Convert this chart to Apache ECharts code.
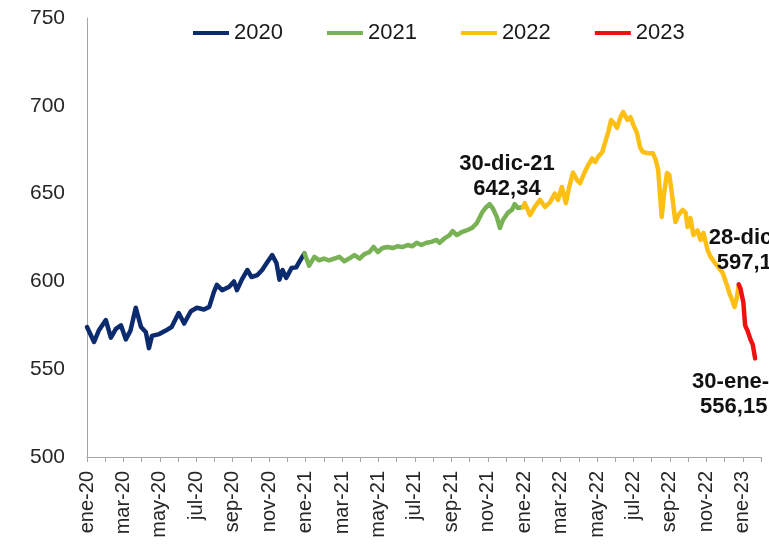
<!DOCTYPE html>
<html>
<head>
<meta charset="utf-8">
<script src="https://cdn.jsdelivr.net/npm/echarts@6/dist/echarts.min.js"></script>
<style>
html,body{margin:0;padding:0;background:#fff;}
#chart{width:769px;height:546px;}
</style>
</head>
<body>
<div id="chart"></div>
<script>
// ---- data (dates, values) ----
var seriesNames = ['2020', '2021', '2022', '2023'];
var seriesColors = ['#0c2a6e', '#79b255', '#fdbf14', '#f01010'];

var data2020 = [
  ['2020-01-01',574],['2020-01-13',565.5],['2020-01-21',572],['2020-02-02',578],['2020-02-10',568],
  ['2020-02-18',573],['2020-02-26',575],['2020-03-05',567],['2020-03-13',572],['2020-03-22',585],
  ['2020-03-31',574],['2020-04-08',571],['2020-04-13',562],['2020-04-18',569],['2020-04-30',570],
  ['2020-05-11',572],['2020-05-21',574],['2020-06-02',582],['2020-06-11',576],['2020-06-22',583],
  ['2020-07-02',585],['2020-07-14',584],['2020-07-23',585.5],['2020-07-31',594],['2020-08-05',598],
  ['2020-08-14',595],['2020-08-26',597],['2020-09-03',600],['2020-09-08',595],['2020-09-16',601],
  ['2020-09-25',606.5],['2020-10-02',602.5],['2020-10-12',603.6],['2020-10-20',606.5],['2020-10-29',611],
  ['2020-11-06',615],['2020-11-13',610.5],['2020-11-18',601],['2020-11-23',606.5],['2020-11-29',602],
  ['2020-12-08',607.6],['2020-12-16',608],['2020-12-21',611],['2020-12-30',616]
];
var data2021 = [
  ['2020-12-30',616],['2021-01-07',609],['2021-01-16',614],['2021-01-24',612],['2021-02-01',613],
  ['2021-02-09',612],['2021-02-17',613],['2021-02-25',614],['2021-03-05',611.5],['2021-03-13',613],
  ['2021-03-22',615],['2021-03-31',613],['2021-04-08',615.6],['2021-04-16',616.7],['2021-04-23',619.6],
  ['2021-04-30',616.7],['2021-05-08',619],['2021-05-16',619.6],['2021-05-25',619],['2021-06-02',620],
  ['2021-06-11',619.6],['2021-06-19',620.7],['2021-06-27',620],['2021-07-04',622],['2021-07-12',620.7],
  ['2021-07-21',622],['2021-07-29',622.5],['2021-08-07',623.6],['2021-08-12',622],['2021-08-21',624.7],
  ['2021-08-29',626.4],['2021-09-03',628.7],['2021-09-10',626.4],['2021-09-18',628],['2021-09-26',629],
  ['2021-10-05',630.4],['2021-10-13',633],['2021-10-22',639],['2021-10-28',641.8],['2021-11-04',644],
  ['2021-11-09',641.8],['2021-11-16',636.7],['2021-11-21',630.4],['2021-11-26',635],['2021-12-04',639],
  ['2021-12-11',640.7],['2021-12-16',644],['2021-12-21',641.8],['2021-12-30',642.34]
];
var data2022 = [
  ['2021-12-30',642.34],['2022-01-02',644.6],['2022-01-11',637.8],['2022-01-19',642.4],['2022-01-28',646.4],
  ['2022-02-05',642.4],['2022-02-13',645.2],['2022-02-20',650],['2022-02-25',646.4],['2022-03-03',653.8],
  ['2022-03-10',644.6],['2022-03-15',653],['2022-03-22',662],['2022-03-29',657.7],['2022-04-03',656],
  ['2022-04-10',661.7],['2022-04-16',666],['2022-04-23',670],['2022-04-28',668],['2022-05-03',671],
  ['2022-05-10',673.7],['2022-05-15',679.4],['2022-05-20',685],['2022-05-25',692],['2022-05-30',690],
  ['2022-06-04',687.4],['2022-06-09',693],['2022-06-14',696.5],['2022-06-21',692],['2022-06-26',693.6],
  ['2022-07-01',689],['2022-07-07',684.5],['2022-07-12',676.5],['2022-07-17',673.7],['2022-07-26',673],
  ['2022-08-03',673],['2022-08-08',669],['2022-08-12',663.4],['2022-08-18',636.7],['2022-08-22',650],
  ['2022-08-27',661.7],['2022-08-31',660.6],['2022-09-05',648],['2022-09-10',633.8],['2022-09-15',637.8],
  ['2022-09-22',640.7],['2022-09-27',639],['2022-09-30',631],['2022-10-05',636],['2022-10-10',626.4],
  ['2022-10-17',629],['2022-10-22',623.6],['2022-10-27',627.6],['2022-11-03',617.9],['2022-11-08',614],
  ['2022-11-14',611],['2022-11-21',608],['2022-11-28',604.8],['2022-12-02',600.8],['2022-12-06',597],
  ['2022-12-09',593.4],['2022-12-14',589.4],['2022-12-18',585.4],['2022-12-21',589.4],['2022-12-25',597.5]
];
var data2023 = [
  ['2022-12-25',598.3],['2022-12-28',596],['2023-01-02',588],['2023-01-05',575],['2023-01-09',572],
  ['2023-01-14',567],['2023-01-18',564],['2023-01-22',556.15]
];

var xTickLabels = ['ene-20','mar-20','may-20','jul-20','sep-20','nov-20',
                   'ene-21','mar-21','may-21','jul-21','sep-21','nov-21',
                   'ene-22','mar-22','may-22','jul-22','sep-22','nov-22','ene-23'];
var yMin = 500, yMax = 750, yStep = 50;

var annotations = [
  {series: 1, top: '30-dic-21', bottom: '642,34'},
  {series: 2, top: '28-dic-22', bottom: '597,17'},
  {series: 3, top: '30-ene-23', bottom: '556,15'}
];

// ---- helpers ----
function toMonths(s) {
  var p = s.split('-').map(Number);
  var dim = new Date(p[0], p[1], 0).getDate();
  return (p[0] - 2020) * 12 + (p[1] - 1) + (p[2] - 1) / dim;
}
function conv(arr) { return arr.map(function (d) { return [toMonths(d[0]), d[1]]; }); }
var allData = [conv(data2020), conv(data2021), conv(data2022), conv(data2023)];

var FONT = '"Liberation Sans", Arial, sans-serif';

var labelStyles = [
  {position: 'top', align: 'center', offset: [-16, 0], pad: 0},
  {position: 'top', align: 'left', offset: [-30, -5], pad: 8},
  {position: 'bottom', align: 'left', offset: [-63, 6], pad: 8}
];

var series = seriesNames.map(function (name, i) {
  var s = {
    name: name,
    type: 'line',
    data: allData[i],
    showSymbol: false,
    symbol: 'none',
    smooth: false,
    lineStyle: {width: 4.5, color: seriesColors[i], join: 'round', cap: 'round'},
    itemStyle: {color: seriesColors[i]},
    z: 2 + i,
    animation: false
  };
  annotations.forEach(function (a, k) {
    if (a.series === i) {
      var last = allData[i][allData[i].length - 1];
      var ls = labelStyles[k];
      s.markPoint = {
        symbol: 'circle',
        symbolSize: 1,
        itemStyle: {color: 'rgba(0,0,0,0)'},
        animation: false,
        data: [{coord: last}],
        label: {
          show: true,
          position: ls.position,
          align: ls.align,
          distance: 5,
          offset: ls.offset,
          formatter: '{a|' + a.top + '}\n{b|' + a.bottom + '}',
          rich: {
            a: {fontFamily: FONT, fontSize: 22, fontWeight: 'bold', color: '#111', lineHeight: 25},
            b: {fontFamily: FONT, fontSize: 22, fontWeight: 'bold', color: '#111', lineHeight: 25, padding: [0, 0, 0, ls.pad]}
          }
        }
      };
    }
  });
  return s;
});

var chart = echarts.init(document.getElementById('chart'), null, {renderer: 'canvas'});
chart.setOption({
  backgroundColor: '#ffffff',
  animation: false,
  grid: {left: 87, right: 8, top: 18, bottom: 89, containLabel: false},
  legend: {
    data: seriesNames,
    left: 188,
    top: 17,
    icon: 'rect',
    itemWidth: 36,
    itemHeight: 4,
    itemGap: 44,
    textStyle: {fontFamily: FONT, fontSize: 22, color: '#1a1a1a'}
  },
  xAxis: {
    type: 'value',
    min: 0,
    max: 37,
    interval: 1,
    axisLine: {show: true, lineStyle: {color: '#a6a6a6', width: 1}},
    axisTick: {show: true, inside: false, length: 5, lineStyle: {color: '#a6a6a6'}},
    splitLine: {show: false},
    axisLabel: {
      rotate: 90,
      margin: 14,
      fontFamily: FONT,
      fontSize: 20,
      color: '#262626',
      showMinLabel: true,
      showMaxLabel: true,
      formatter: function (v) {
        var r = Math.round(v);
        if (r % 2 !== 0) return '';
        return xTickLabels[r / 2] || '';
      }
    }
  },
  yAxis: {
    type: 'value',
    min: yMin,
    max: yMax,
    interval: yStep,
    axisLine: {show: true, lineStyle: {color: '#a6a6a6', width: 1}},
    axisTick: {show: false},
    splitLine: {show: false},
    axisLabel: {margin: 22, fontFamily: FONT, fontSize: 21, color: '#262626'}
  },
  series: series
});
</script>
</body>
</html>
